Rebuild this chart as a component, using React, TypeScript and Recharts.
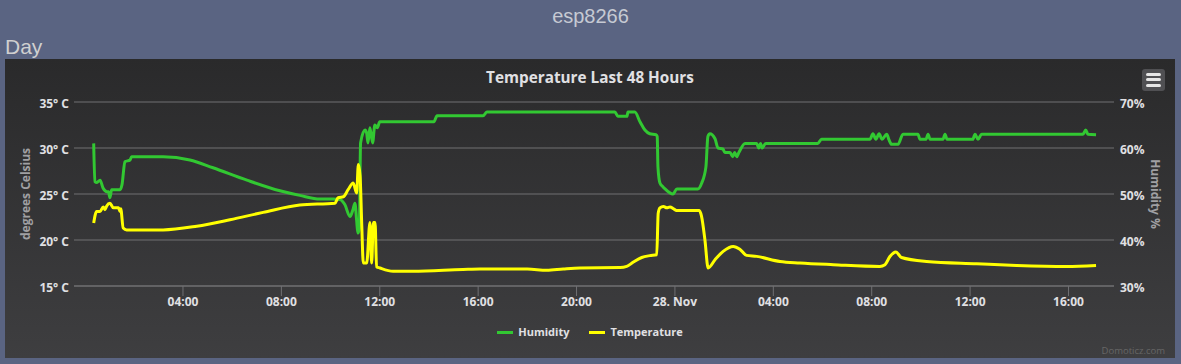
import { LineChart, Line, XAxis, YAxis, CartesianGrid } from 'recharts';

// hours since 27 Nov 00:00
const humHours = [
  0.37, 0.42, 0.5, 0.63, 0.75, 0.91, 0.97, 1.03, 1.1, 1.44, 1.52, 1.64, 1.85, 1.91, 3.19, 4.28, 5.22, 6.6, 7.94, 8.75,
  9.57, 10.1, 10.38, 10.58, 10.79, 10.91, 10.99, 11.06, 11.11, 11.17, 11.22, 11.4, 11.47, 11.52, 11.6, 11.71, 11.8, 11.9,
  12.0, 14.2, 14.33, 16.2, 16.35, 21.56, 21.68, 22.05, 22.09, 22.37, 22.58, 22.78, 22.98, 23.23, 23.28, 23.31, 23.39,
  23.51, 23.6, 23.92, 24.08, 24.93, 25.09, 25.26, 25.34, 25.42, 25.63, 25.75, 25.95, 26.03, 26.24, 26.35, 26.43, 26.51,
  26.6, 26.85, 27.32, 27.41, 27.48, 27.54, 27.69, 29.81, 29.96, 31.93, 32.05, 32.17, 32.3, 32.42, 32.61, 32.7, 32.81,
  33.07, 33.27, 33.88, 33.96, 34.21, 34.29, 34.37, 34.9, 34.98, 35.06, 36.11, 36.2, 36.32, 36.47, 40.59, 40.7, 40.79, 41.12,
];
const humValues = [
  61.0, 52.7, 52.5, 53.0, 51.3, 50.5, 50.5, 49.2, 50.9, 50.9, 52.0, 57.0, 57.4, 58.1, 58.1, 57.4, 55.7, 53.0, 50.7, 49.7,
  48.9, 48.9, 48.8, 47.7, 45.1, 46.6, 48.0, 44.3, 41.5, 42.5, 61.1, 63.9, 63.2, 61.1, 64.4, 61.1, 65.0, 64.4,
  65.7, 65.7, 67.0, 67.0, 67.8, 67.8, 66.9, 66.9, 67.8, 67.8, 65.7, 63.9, 63.1, 62.9, 62.5, 55.9, 52.4,
  51.6, 51.1, 50.0, 51.1, 51.1, 52.4, 55.9, 62.5, 63.1, 62.0, 60.0, 59.8, 59.0, 59.0, 58.1, 59.0, 58.1,
  59.0, 61.0, 61.0, 60.0, 61.0, 60.0, 61.0, 61.0, 61.9, 61.9, 63.1, 61.9, 63.1, 61.9, 63.0, 61.8, 60.8,
  60.8, 63.0, 63.0, 61.9, 61.9, 63.0, 61.9, 61.9, 63.0, 61.9, 61.9, 63.0, 61.9, 63.0, 63.0, 63.9, 63.0, 62.9,
];

const tempHours = [
  0.37, 0.49, 0.63, 0.76, 0.83, 0.9, 1.03, 1.17, 1.38, 1.44, 1.47, 1.57, 1.71, 3.19, 4.56, 5.91, 7.26, 8.75, 10.18,
  10.31, 10.52, 10.72, 10.92, 11.06, 11.13, 11.2, 11.27, 11.33, 11.47, 11.6, 11.67, 11.74, 11.81, 11.87, 12.01, 12.54,
  13.35, 15.38, 16.07, 18.0, 18.79, 19.46, 20.14, 21.77, 22.04, 22.31, 22.65, 22.98, 23.26, 23.32, 23.39, 23.53, 23.67,
  23.8, 23.94, 24.07, 24.99, 25.08, 25.22, 25.35, 25.63, 25.96, 26.37, 26.64, 26.91, 27.32, 28.27, 29.08, 30.44, 32.33,
  32.54, 32.74, 32.98, 33.21, 34.23, 36.27, 37.89, 39.92, 41.12,
];
const tempValues = [
  21.85, 23.1, 23.1, 23.6, 23.3, 23.7, 24.0, 23.5, 23.5, 23.1, 23.4, 21.3, 21.1, 21.1, 21.5, 22.2, 23.0, 23.8, 24.0,
  24.6, 24.7, 25.5, 26.2, 25.1, 28.2, 27.0, 21.5, 17.5, 17.5, 21.9, 17.5, 21.9, 21.9, 17.1, 16.96, 16.6,
  16.6, 16.8, 16.85, 16.85, 16.7, 16.85, 16.96, 17.0, 17.13, 17.6, 18.1, 18.3, 18.4, 22.9, 23.5, 23.65, 23.5,
  23.6, 23.4, 23.2, 23.2, 22.6, 20.0, 16.96, 17.86, 18.76, 19.3, 19.0, 18.33, 18.22, 17.67, 17.5, 17.32, 17.13,
  17.32, 18.2, 18.7, 18.1, 17.67, 17.42, 17.24, 17.13, 17.24,
];

const xTicks = [4, 8, 12, 16, 20, 24, 28, 32, 36, 40];
const tempTicks = [15, 20, 25, 30, 35];
const humTicks = [30, 40, 50, 60, 70];

const humData = humHours.map((h, i) => ({ h, hum: humValues[i] }));
const tempData = tempHours.map((h, i) => ({ h, temp: tempValues[i] }));

const font = '"Open Sans", "DejaVu Sans", sans-serif';
const labelColor = '#E0E0E3';
const gridColor = '#707073';
const humColor = '#32c832';
const tempColor = '#ffff00';

function formatHour(h: number) {
  if (h === 24) return '28. Nov';
  return `${String(h % 24).padStart(2, '0')}:00`;
}

export default function App() {
  const tick = { fill: labelColor, fontSize: 12, fontWeight: 700, fontFamily: font };
  return (
    <div style={{ position: 'relative', width: 1181, height: 364, background: '#5a6482', overflow: 'hidden', fontFamily: font }}>
      <style>{'body{margin:0}'}</style>
      <div style={{ position: 'absolute', top: 4, left: 0, width: 1181, textAlign: 'center', fontSize: 20, lineHeight: '24px', color: '#c6cad3', fontFamily: '"Liberation Sans", Arial, sans-serif' }}>
        esp8266
      </div>
      <div style={{ position: 'absolute', top: 36, left: 5, fontSize: 21, lineHeight: '21px', color: '#d0d0d0', fontFamily: '"Liberation Sans", Arial, sans-serif' }}>
        Day
      </div>
      <div style={{ position: 'absolute', left: 5, top: 59, width: 1170, height: 299, background: 'linear-gradient(#2a2a2b, #3e3e40)' }}>
        <div style={{ position: 'absolute', top: 8, left: 0, width: 1170, textAlign: 'center', fontSize: 15.3, fontWeight: 700, color: labelColor, lineHeight: '20px' }}>
          Temperature Last 48 Hours
        </div>
        <div style={{ position: 'absolute', left: 1137, top: 10, width: 23, height: 22, background: '#505053', borderRadius: 3 }}>
          {[5, 10.5, 16].map((t) => (
            <div key={t} style={{ position: 'absolute', left: 4, top: t - 1.5, width: 15, height: 3, borderRadius: 2, background: '#e6e6e6' }} />
          ))}
        </div>
        <div style={{ position: 'absolute', left: 20, top: 135, width: 0, height: 0 }}>
          <div style={{ position: 'absolute', transform: 'translate(-50%, -50%) rotate(-90deg)', whiteSpace: 'nowrap', fontSize: 12, fontWeight: 700, color: '#A0A0A3' }}>
            degrees Celsius
          </div>
        </div>
        <div style={{ position: 'absolute', left: 1150, top: 135, width: 0, height: 0 }}>
          <div style={{ position: 'absolute', transform: 'translate(-50%, -50%) rotate(90deg)', whiteSpace: 'nowrap', fontSize: 12, fontWeight: 700, color: '#A0A0A3' }}>
            Humidity %
          </div>
        </div>
        <LineChart width={1170} height={299} margin={{ top: 43, right: 0, bottom: 42, left: 0 }} style={{ position: 'absolute', left: 0, top: 0 }}>
          <CartesianGrid vertical={false} stroke={gridColor} yAxisId="temp" horizontalValues={tempTicks} />
          <XAxis
            dataKey="h"
            type="number"
            domain={[-0.43, 41.85]}
            allowDataOverflow
            ticks={xTicks}
            interval={0}
            tickFormatter={formatHour}
            height={30}
            tickSize={10}
            tickMargin={1}
            stroke={gridColor}
            tick={tick}
          />
          <YAxis
            yAxisId="temp"
            domain={[15, 35]}
            ticks={tempTicks}
            tickFormatter={(v: number) => `${v}° C`}
            width={69}
            axisLine={false}
            tickLine={false}
            tickSize={0}
            tickMargin={5}
            tick={{ ...tick, dy: 2 }}
          />
          <YAxis
            yAxisId="hum"
            orientation="right"
            domain={[30, 70]}
            ticks={humTicks}
            tickFormatter={(v: number) => `${v}%`}
            width={61}
            axisLine={false}
            tickLine={false}
            tickSize={0}
            tickMargin={6}
            tick={{ ...tick, dy: 2 }}
          />
          <Line data={humData} dataKey="hum" yAxisId="hum" type="monotone" stroke={humColor} strokeWidth={3} dot={false} isAnimationActive={false} />
          <Line data={tempData} dataKey="temp" yAxisId="temp" type="monotone" stroke={tempColor} strokeWidth={3} dot={false} isAnimationActive={false} />
        </LineChart>
        <div style={{ position: 'absolute', top: 265, left: 0, width: 1170, display: 'flex', justifyContent: 'center', fontSize: 11, fontWeight: 700, color: labelColor, lineHeight: '16px' }}>
          <div style={{ display: 'flex', alignItems: 'center', marginRight: 20 }}>
            <span style={{ width: 16, height: 3, background: humColor, marginRight: 5 }} />
            Humidity
          </div>
          <div style={{ display: 'flex', alignItems: 'center' }}>
            <span style={{ width: 16, height: 3, background: tempColor, marginRight: 5 }} />
            Temperature
          </div>
        </div>
        <div style={{ position: 'absolute', right: 10, top: 286, fontSize: 9.5, color: '#666', lineHeight: '12px' }}>
          Domoticz.com
        </div>
      </div>
    </div>
  );
}
